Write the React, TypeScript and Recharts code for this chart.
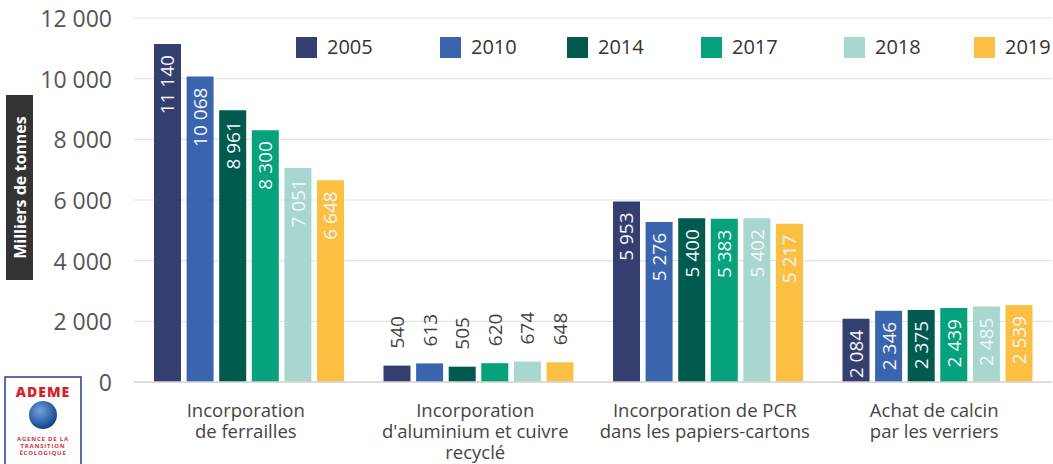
import { BarChart, Bar, XAxis, YAxis, CartesianGrid, LabelList, Label } from 'recharts'

const categories = [
  'Incorporation\nde ferrailles',
  "Incorporation\nd'aluminium et cuivre\nrecyclé",
  'Incorporation de PCR\ndans les papiers-cartons',
  'Achat de calcin\npar les verriers',
]

const years = ['2005', '2010', '2014', '2017', '2018', '2019']

const values2005 = [11140, 540, 5953, 2084]
const values2010 = [10068, 613, 5276, 2346]
const values2014 = [8961, 505, 5400, 2375]
const values2017 = [8300, 620, 5383, 2439]
const values2018 = [7051, 674, 5402, 2485]
const values2019 = [6648, 648, 5217, 2539]

const yTicks = [0, 2000, 4000, 6000, 8000, 10000, 12000]

const colors = ['#343f70', '#3b64ae', '#005b4e', '#05a27c', '#a7d7cf', '#fbc042']

const seriesValues = [values2005, values2010, values2014, values2017, values2018, values2019]

const data = categories.map((name, i) => {
  const row: Record<string, string | number> = { name }
  years.forEach((y, j) => {
    row[y] = seriesValues[j][i]
  })
  return row
})

const FONT = '"Open Sans", sans-serif'

const fmt = (v: number) => String(v).replace(/\B(?=(\d{3})+(?!\d))/g, ' ')

function YTick({ y, payload }: any) {
  return (
    <text
      x={112}
      y={y}
      textAnchor="end"
      dominantBaseline="central"
      fontFamily={FONT}
      fontSize={23}
      fill="#555"
    >
      {fmt(payload.value)}
    </text>
  )
}

function XTick({ x, y, payload }: any) {
  const lines = String(payload.value).split('\n')
  return (
    <text x={x - 3} y={y + 27} textAnchor="middle" fontFamily={FONT} fontSize={18.5} fill="#444">
      {lines.map((l, i) => (
        <tspan key={i} x={x - 3} dy={i === 0 ? 0 : 21}>
          {l}
        </tspan>
      ))}
    </text>
  )
}

function BarLabel({ x, y, width, value }: any) {
  const cx = x + width / 2
  if (value < 1000) {
    const ay = y - 17
    return (
      <text
        x={cx}
        y={ay}
        transform={`rotate(-90 ${cx} ${ay})`}
        textAnchor="start"
        dominantBaseline="central"
        fontFamily={FONT}
        fontSize={19}
        fill="#444"
      >
        {fmt(value)}
      </text>
    )
  }
  const ay = y + 11
  return (
    <text
      x={cx}
      y={ay}
      transform={`rotate(-90 ${cx} ${ay})`}
      textAnchor="end"
      dominantBaseline="central"
      fontFamily={FONT}
      fontSize={19}
      fill="#f4f6fa"
    >
      {fmt(value)}
    </text>
  )
}

function AxisTitle() {
  return (
    <g>
      <rect x={6} y={95} width={27} height={185} fill="#333333" />
      <text
        x={19.5}
        y={187.5}
        transform="rotate(-90 19.5 187.5)"
        textAnchor="middle"
        dominantBaseline="central"
        fontFamily={FONT}
        fontWeight={700}
        fontSize={16}
        fill="#ffffff"
      >
        Milliers de tonnes
      </text>
    </g>
  )
}

function Logo() {
  return (
    <svg
      width={78}
      height={90}
      style={{ position: 'absolute', left: 4, top: 376 }}
    >
      <defs>
        <radialGradient id="globe" cx="40%" cy="35%" r="70%">
          <stop offset="0%" stopColor="#6fa3e0" />
          <stop offset="100%" stopColor="#0b3f86" />
        </radialGradient>
      </defs>
      <rect x={1} y={1} width={76} height={92} fill="#fff" stroke="#2a3d8f" strokeWidth={1.5} />
      <text x={39} y={21} textAnchor="middle" fontFamily={FONT} fontWeight={800} fontSize={14} fill="#d2232a" letterSpacing={1}>
        ADEME
      </text>
      <circle cx={39} cy={39} r={14} fill="url(#globe)" />
      {['AGENCE DE LA', 'TRANSITION', 'ÉCOLOGIQUE'].map((t, i) => (
        <text key={t} x={39} y={65 + i * 7} textAnchor="middle" fontFamily={FONT} fontWeight={700} fontSize={6} fill="#c8323a" letterSpacing={0.8}>
          {t}
        </text>
      ))}
    </svg>
  )
}

function LegendBox() {
  const lefts = [296, 440, 567, 701, 844, 974]
  return (
    <div style={{ position: 'absolute', left: 0, top: 36 }}>
      {years.map((y, i) => (
        <div
          key={y}
          style={{
            position: 'absolute',
            left: lefts[i],
            top: 0,
            display: 'flex',
            alignItems: 'center',
            gap: 10,
            fontFamily: FONT,
            fontSize: 20,
            color: '#333',
            whiteSpace: 'nowrap',
            lineHeight: '22px',
          }}
        >
          <span style={{ width: 21, height: 21, background: colors[i], display: 'inline-block' }} />
          {y}
        </div>
      ))}
    </div>
  )
}

export default function App() {
  return (
    <div style={{ position: 'absolute', left: 0, top: 0, width: 1053, height: 464, background: '#fff' }}>
      <style>{`body{margin:0}`}</style>
      <BarChart
        width={1053}
        height={464}
        data={data}
        margin={{ top: 18, right: 1, bottom: 0, left: 0 }}
        barSize={27}
        barGap={5.6}
      >
        <CartesianGrid vertical={false} stroke="#e2e2e2" strokeWidth={1.2} />
        <XAxis
          dataKey="name"
          height={82}
          axisLine={{ stroke: '#d6d6d6', strokeWidth: 1.5 }}
          tickLine={false}
          interval={0}
          tick={<XTick />}
        />
        <YAxis
          width={134}
          domain={[0, 12000]}
          ticks={yTicks}
          axisLine={false}
          tickLine={false}
          tick={<YTick />}
        >
          <Label content={<AxisTitle />} />
        </YAxis>
        {years.map((y, i) => (
          <Bar key={y} dataKey={y} fill={colors[i]} isAnimationActive={false}>
            <LabelList dataKey={y} content={<BarLabel />} />
          </Bar>
        ))}
      </BarChart>
      <LegendBox />
      <Logo />
    </div>
  )
}
